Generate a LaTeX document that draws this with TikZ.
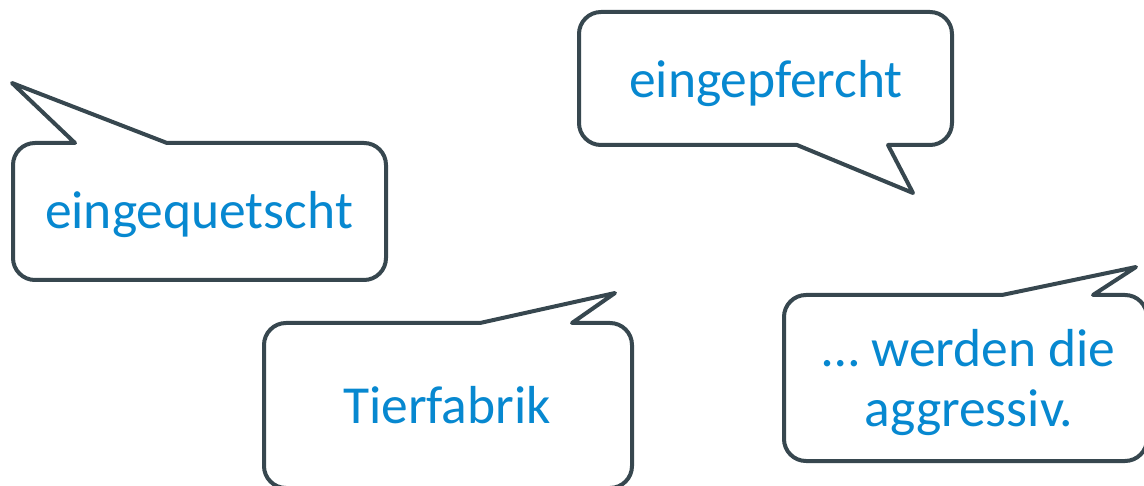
\documentclass[tikz,border=0pt]{standalone}
\usepackage{fontspec}
\setmainfont{Carlito}
\definecolor{outline}{HTML}{37474F}
\definecolor{speech}{HTML}{0788D0}
\tikzset{
  bubble/.style={draw=outline, fill=white, line width=4pt, line join=round},
  words/.style={text=speech, font=\fontsize{53.5}{60}\selectfont, inner sep=0pt, align=center},
}
\begin{document}
\begin{tikzpicture}[x=1pt, y=-1pt]
\useasboundingbox (0,0) rectangle (1144,486);

% top left bubble, tail pointing up-left (corners drawn clockwise)
\draw[bubble] (75,143) -- (12,83) -- (167,143) -- (364,143)
  arc[start angle=90, end angle=0, radius=22pt] -- (386,258)
  arc[start angle=0, end angle=-90, radius=22pt] -- (35,280)
  arc[start angle=-90, end angle=-180, radius=22pt] -- (13,165)
  arc[start angle=180, end angle=90, radius=22pt] -- cycle;
\node[words, anchor=base] (squeezed) at (199,229) {eingequetscht};

% top right bubble, tail pointing down-right
\draw[bubble] (797,145) -- (601,145)
  arc[start angle=-90, end angle=-180, radius=22pt] -- (579,34)
  arc[start angle=180, end angle=90, radius=22pt] -- (930,12)
  arc[start angle=90, end angle=0, radius=22pt] -- (952,123)
  arc[start angle=0, end angle=-90, radius=22pt] -- (888,145) -- (913,193) -- cycle;
\node[words, anchor=base] (penned) at (766,98) {eingepfercht};

% bottom middle bubble, tail pointing up-right
\draw[bubble] (480,323) -- (615,293) -- (572,323) -- (610,323)
  arc[start angle=90, end angle=0, radius=22pt] -- (632,466)
  arc[start angle=0, end angle=-90, radius=22pt] -- (286,488)
  arc[start angle=-90, end angle=-180, radius=22pt] -- (264,345)
  arc[start angle=180, end angle=90, radius=22pt] -- cycle;
\node[words, anchor=base] (factory) at (447,424) {Tierfabrik};

% bottom right bubble, tail pointing up-right
\draw[bubble] (1002,295) -- (1136,267) -- (1093,295) -- (1125,295)
  arc[start angle=90, end angle=0, radius=22pt] -- (1147,439)
  arc[start angle=0, end angle=-90, radius=22pt] -- (806,461)
  arc[start angle=-90, end angle=-180, radius=22pt] -- (784,317)
  arc[start angle=180, end angle=90, radius=22pt] -- cycle;
\node[words, anchor=base] (aggressive) at (969,426) {… werden die\\aggressiv.};
\end{tikzpicture}
\end{document}
